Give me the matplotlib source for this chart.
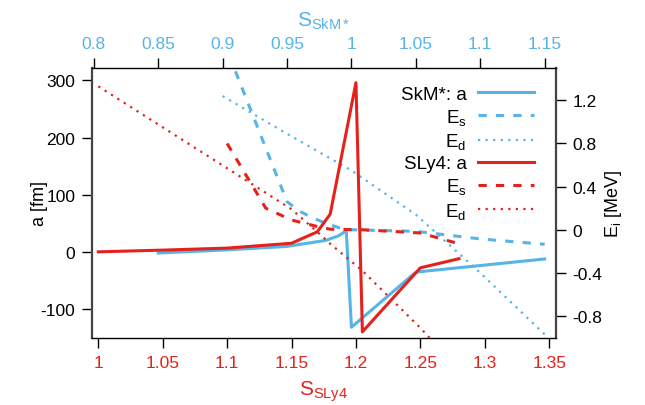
import matplotlib
matplotlib.use("Agg")
import matplotlib.pyplot as plt
from matplotlib.ticker import FixedLocator, FuncFormatter

plt.rcParams["font.family"] = ["Liberation Sans", "DejaVu Sans"]
plt.rcParams["mathtext.fontset"] = "custom"
plt.rcParams["mathtext.rm"] = "Liberation Sans"
plt.rcParams["mathtext.it"] = "Liberation Sans"
plt.rcParams["axes.unicode_minus"] = False

BLUE = "#56B4E9"
RED = "#E4221B"

# SLy4 (bottom x axis)
sly4_S_a = [1.0, 1.05, 1.1, 1.15, 1.17, 1.18, 1.2, 1.205, 1.25, 1.28]
sly4_a = [0, 3, 6.5, 15, 35, 66, 296, -140, -28, -12]
sly4_S_Es = [1.1, 1.13, 1.15, 1.17, 1.18, 1.2, 1.205, 1.25, 1.28]
sly4_Es = [0.80, 0.20, 0.09, 0.03, 0.005, 0.0, 0.0, -0.03, -0.13]
sly4_S_Ed = [1.0, 1.05, 1.1, 1.15, 1.17, 1.18, 1.2, 1.205, 1.25, 1.26]
sly4_Ed = [1.33, 0.95, 0.57, 0.19, -0.02, -0.13, -0.33, -0.38, -0.91, -1.04]

# SkM* (top x axis)
skm_S_a = [0.85, 0.9, 0.95, 0.98, 0.99, 0.996, 1.0, 1.05, 1.1, 1.15]
skm_a = [-2, 3, 9.5, 20, 28, 37, -132, -35.5, -24, -12.5]
skm_S_Es = [0.9, 0.95, 0.96, 0.97, 0.98, 0.99, 1.0, 1.05, 1.1, 1.15]
skm_Es = [1.77, 0.26, 0.17, 0.11, 0.06, 0.02, 0.0, -0.015, -0.085, -0.135]
skm_S_Ed = [0.9, 0.95, 1.0, 1.05, 1.1, 1.15]
skm_Ed = [1.24, 0.89, 0.55, 0.14, -0.40, -0.97]

sly4_ticks = [1, 1.05, 1.1, 1.15, 1.2, 1.25, 1.3, 1.35]
skm_ticks = [0.8, 0.85, 0.9, 0.95, 1, 1.05, 1.1, 1.15]
a_ticks = [-100, 0, 100, 200, 300]
e_ticks = [-0.8, -0.4, 0, 0.4, 0.8, 1.2]

fig = plt.figure(figsize=(6.45, 4.06), dpi=100)
ax = fig.add_axes([92 / 645, 1 - 339 / 406, 464 / 645, 270 / 406])
axt = ax.twiny()
axE = ax.twinx()
axtE = axt.twinx()

fmt = FuncFormatter(lambda v, p: "%g" % v)
lw = 2.2
dash = (2.7, 3.0)
dot = (1.0, 2.4)

l1, = axt.plot(skm_S_a, skm_a, color=BLUE, lw=lw, label="SkM*: a")
l2, = axtE.plot(skm_S_Es, skm_Es, color=BLUE, lw=lw, dashes=dash, label=r"E$_\mathrm{s}$")
l3, = axtE.plot(skm_S_Ed, skm_Ed, color=BLUE, lw=1.6, dashes=dot, label=r"E$_\mathrm{d}$")
l4, = ax.plot(sly4_S_a, sly4_a, color=RED, lw=lw, label="SLy4: a")
l5, = axE.plot(sly4_S_Es, sly4_Es, color=RED, lw=lw, dashes=dash, label=r"E$_\mathrm{s}$")
l6, = axE.plot(sly4_S_Ed, sly4_Ed, color=RED, lw=1.6, dashes=dot, label=r"E$_\mathrm{d}$")

ax.set_xlim(0.9951, 1.3553)
axt.set_xlim(0.7986, 1.1588)
ax.set_ylim(-150.8, 321.7)
axE.set_ylim(-1.004, 1.50)
axtE.set_ylim(-1.004, 1.50)

# draw order: blue below red
axtE.set_zorder(1)
axt.set_zorder(2)
axE.set_zorder(3)
ax.set_zorder(4)
ax.patch.set_visible(False)
axtE.yaxis.set_visible(False)

for a_ in (axt, axE, axtE):
    for s in a_.spines.values():
        s.set_visible(False)
for side in ("left", "right"):
    ax.spines[side].set_color("#444444")
    ax.spines[side].set_linewidth(1.6)
for side in ("top", "bottom"):
    ax.spines[side].set_color("black")
    ax.spines[side].set_linewidth(1.0)

tp = dict(direction="out", length=7, width=1, labelsize=12.5, pad=5)
ax.xaxis.set_major_locator(FixedLocator(sly4_ticks))
ax.xaxis.set_major_formatter(fmt)
ax.tick_params(axis="x", labelcolor=RED, **tp)
ax.yaxis.set_major_locator(FixedLocator(a_ticks))
ax.yaxis.set_major_formatter(fmt)
ax.tick_params(axis="y", **tp)
axt.xaxis.set_major_locator(FixedLocator(skm_ticks))
axt.xaxis.set_major_formatter(fmt)
axt.tick_params(axis="x", labelcolor=BLUE, **tp)
axE.yaxis.set_major_locator(FixedLocator(e_ticks))
axE.yaxis.set_major_formatter(fmt)
axE.tick_params(axis="y", **tp)

ax.set_xlabel(r"S$_\mathrm{SLy4}$", color=RED, fontsize=15, labelpad=6)
axt.set_xlabel(r"S$_\mathrm{SkM*}$", color=BLUE, fontsize=15, labelpad=8)
ax.set_ylabel("a [fm]", fontsize=13, labelpad=-5)
axE.set_ylabel(r"E$_\mathrm{i}$ [MeV]", fontsize=13, labelpad=0)

leg = ax.legend(handles=[l1, l2, l3, l4, l5, l6], loc="upper right",
                bbox_to_anchor=(0.985, 0.99), frameon=False, markerfirst=False,
                fontsize=13.5, handlelength=3.0, handletextpad=0.6,
                labelspacing=0.22, borderpad=0.3)

fig.savefig("out.png", dpi=100, facecolor="white")
